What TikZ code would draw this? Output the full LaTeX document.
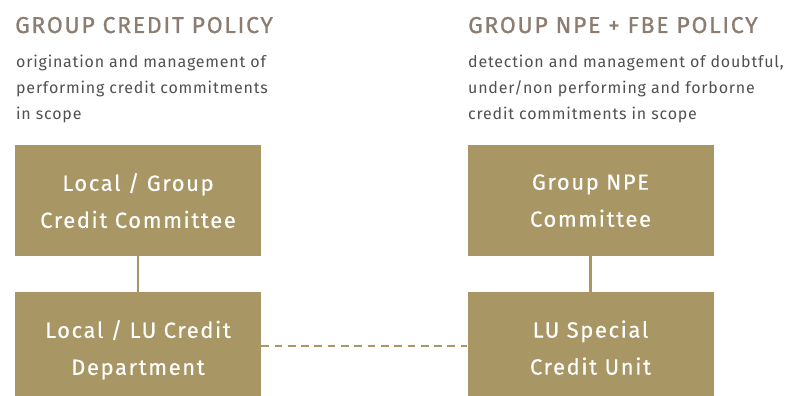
\documentclass[tikz,border=0pt]{standalone}
\usepackage{fontspec}
\setmainfont[LetterSpace=5]{Fira Sans}
\newfontfamily\headfont[FakeBold=0.8, LetterSpace=7.5]{Fira Sans}
\newfontfamily\labelfont[FakeBold=0.3, LetterSpace=7.3]{Fira Sans}
\definecolor{boxgold}{HTML}{A99665}
\definecolor{headtaupe}{HTML}{8C7D70}
\definecolor{bodygrey}{HTML}{505050}
\tikzset{
  heading/.style={anchor=base west, inner sep=0pt, text=headtaupe,
    font=\headfont\fontsize{23}{26}\selectfont},
  blurb/.style={anchor=north west, inner sep=0pt, align=left, text=bodygrey,
    font=\fontsize{16}{26}\selectfont},
  unitbox/.style={rectangle, fill=boxgold, inner sep=0pt, minimum width=246,
    minimum height=111, text=white, align=center, text depth=0pt,
    font=\labelfont\fontsize{22}{37}\selectfont},
  link/.style={draw=boxgold, line width=2.4pt},
  peerlink/.style={draw=boxgold, line width=2.6pt, dash pattern=on 7.7pt off 5.6pt}
}
\begin{document}
\begin{tikzpicture}[x=1pt, y=-1pt]
  \useasboundingbox (0,0) rectangle (790,396);
  \clip (0,0) rectangle (790,396);

  % column headings and scope notes
  \node[heading] (credhead) at (15,33) {GROUP CREDIT POLICY};
  \node[heading] (npehead) at (468,33) {GROUP NPE + FBE POLICY};
  \node[blurb] (crednote) at (16,55)
    {origination and management of\\performing credit commitments\\in scope};
  \node[blurb] (npenote) at (468,55)
    {detection and management of doubtful,\\under/non performing and forborne\\credit commitments in scope};

  % committees and units
  \node[unitbox] (lgcc) at (138,200.5) {Local / Group\\Credit Committee};
  \node[unitbox] (lcd)  at (138,347.5) {Local / LU Credit\\Department};
  \node[unitbox] (npec) at (590.5,200.5) {Group NPE\\Committee};
  \node[unitbox] (lsc)  at (590.5,347.5) {LU Special\\Credit Unit};

  % reporting lines
  \draw[link] (lgcc) -- (lcd);
  \draw[link] (npec) -- (lsc);
  \draw[peerlink] ([yshift=1.5]lcd.east) -- ([yshift=1.5]lsc.west);
\end{tikzpicture}
\end{document}
